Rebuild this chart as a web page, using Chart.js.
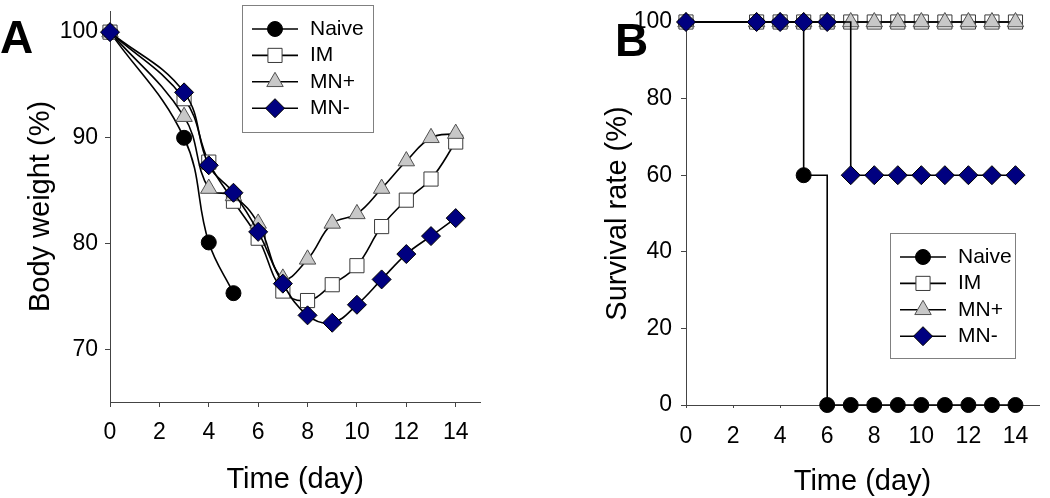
<!DOCTYPE html>
<html>
<head>
<meta charset="utf-8">
<script src="https://cdn.jsdelivr.net/npm/chart.js@4.4.1/dist/chart.umd.min.js"></script>
<style>
  body { margin: 0; background: #fff; }
  #wrap { position: relative; width: 1050px; height: 498px; overflow: hidden; }
  canvas { position: absolute; top: 0; }
  #chartA { left: 0; }
  #chartB { left: 525px; }
  .panel { position: absolute; font: bold 46px 'Liberation Sans', Arial, sans-serif; line-height: 1; color: #000; z-index: 2; }
</style>
</head>
<body>
<div id="wrap">
  <canvas id="chartA" width="525" height="498"></canvas>
  <canvas id="chartB" width="525" height="498"></canvas>
  <div class="panel" style="left:0px;top:14px">A</div>
  <div class="panel" style="left:615px;top:17px">B</div>
</div>
<script>
// data
var days = [0, 3, 4, 5, 6, 7, 8, 9, 10, 11, 12, 13, 14];
var dayTicks = [0, 2, 4, 6, 8, 10, 12, 14];
var weightTicks = [70, 80, 90, 100];
var survivalTicks = [0, 20, 40, 60, 80, 100];
var groups = ['Naive', 'IM', 'MN+', 'MN-'];

// body weight (%) - naive mice only to day 5
var weightNaive = [100, 90.0, 80.1, 75.3];
var weightIM = [100, 93.7, 87.7, 84.0, 80.5, 75.5, 74.6, 76.1, 77.9, 81.6, 84.1, 86.1, 89.6];
var weightMNplus = [100, 92.0, 85.2, 84.5, 81.9, 76.7, 78.5, 81.9, 82.8, 85.2, 87.8, 90.0, 90.4];
var weightMNminus = [100, 94.3, 87.4, 84.8, 81.1, 76.2, 73.2, 72.5, 74.2, 76.6, 79.0, 80.7, 82.4];

// survival rate (%)
var survNaive = [100, 100, 100, 60, 0, 0, 0, 0, 0, 0, 0, 0, 0];
var survIM = [100, 100, 100, 100, 100, 100, 100, 100, 100, 100, 100, 100, 100];
var survMNplus = [100, 100, 100, 100, 100, 100, 100, 100, 100, 100, 100, 100, 100];
var survMNminus = [100, 100, 100, 100, 100, 60, 60, 60, 60, 60, 60, 60, 60];

var FONT = "'Liberation Sans', Arial, sans-serif";

var markers = [
  { style: 'circle', radius: 7.5, fill: '#000000', border: '#000000' },
  { style: 'rect', radius: 10, fill: '#ffffff', border: '#3a3a3a' },
  { style: 'triangle', radius: 9.5, fill: '#c8c8c8', border: '#505050' },
  { style: 'rectRot', radius: 9.5, fill: '#000080', border: '#000000' }
];

function toPoints(values) {
  return values.map(function (v, i) { return { x: days[i], y: v }; });
}

function makeDatasets(seriesList, extra) {
  return seriesList.map(function (values, i) {
    var m = markers[i];
    return Object.assign({
      label: groups[i],
      data: toPoints(values),
      order: 3 - i, // MN- drawn on top
      borderColor: '#000',
      borderWidth: 1.6,
      pointStyle: m.style,
      pointRadius: m.radius,
      pointHoverRadius: m.radius,
      pointBackgroundColor: m.fill,
      pointBorderColor: m.border,
      pointBorderWidth: 1,
      clip: false
    }, extra);
  });
}

// legend drawn inside a framed box
var boxLegend = {
  id: 'boxLegend',
  afterDraw: function (chart, args, opts) {
    var ctx = chart.ctx;
    ctx.save();
    ctx.strokeStyle = '#808080';
    ctx.lineWidth = 1;
    ctx.strokeRect(opts.x + 0.5, opts.y + 0.5, opts.w, opts.h);
    ctx.font = '21px ' + FONT;
    ctx.textBaseline = 'middle';
    ctx.textAlign = 'left';
    chart.data.datasets.forEach(function (ds, i) {
      var cy = opts.y + 24 + i * 26.4;
      ctx.strokeStyle = '#000';
      ctx.lineWidth = 1.6;
      ctx.beginPath();
      ctx.moveTo(opts.x + 10, cy);
      ctx.lineTo(opts.x + 56, cy);
      ctx.stroke();
      ctx.fillStyle = ds.pointBackgroundColor;
      ctx.strokeStyle = ds.pointBorderColor;
      ctx.lineWidth = 1;
      Chart.helpers.drawPoint(ctx, { pointStyle: ds.pointStyle, radius: ds.pointRadius, borderWidth: 1, rotation: 0 }, opts.x + 33, cy);
      ctx.fillStyle = '#000';
      ctx.fillText(ds.label, opts.x + 68, cy);
    });
    ctx.restore();
  }
};

function xAxis(height, tickLen, pad, titlePad) {
  return {
    type: 'linear', min: 0, max: 15,
    afterBuildTicks: function (s) { s.ticks = dayTicks.map(function (v) { return { value: v }; }); },
    afterFit: function (s) { s.height = height; s.paddingLeft = 0; s.paddingRight = 0; },
    ticks: { color: '#000', font: { size: 23, family: FONT }, padding: pad, maxRotation: 0 },
    grid: { display: true, drawOnChartArea: false, drawTicks: true, tickLength: tickLen, tickColor: '#444' },
    border: { display: true, color: '#444', width: 1 },
    title: { display: true, text: 'Time (day)', color: '#000', font: { size: 29, family: FONT, lineHeight: 1 }, padding: { top: 0, bottom: titlePad } }
  };
}

function yAxis(width, min, max, tickList, label, pad, titlePad) {
  return {
    type: 'linear', min: min, max: max,
    afterBuildTicks: function (s) { s.ticks = tickList.map(function (v) { return { value: v }; }); },
    afterFit: function (s) { s.width = width; s.paddingTop = 0; s.paddingBottom = 0; },
    ticks: { color: '#000', font: { size: 23, family: FONT }, padding: pad },
    grid: { display: true, drawOnChartArea: false, drawTicks: true, tickLength: 5, tickColor: '#444' },
    border: { display: true, color: '#444', width: 1 },
    title: { display: true, text: label, color: '#000', font: { size: 29, family: FONT, lineHeight: 1 }, padding: { top: titlePad, bottom: 0 } }
  };
}

function baseOptions(layoutPad, legendBox, scales) {
  return {
    responsive: false,
    animation: false,
    events: [],
    layout: { padding: layoutPad },
    plugins: { legend: { display: false }, tooltip: { enabled: false }, boxLegend: legendBox },
    scales: scales
  };
}

// Panel A: body weight
new Chart(document.getElementById('chartA'), {
  type: 'line',
  data: { datasets: makeDatasets([weightNaive, weightIM, weightMNplus, weightMNminus], { tension: 0.4 }) },
  options: baseOptions(
    { top: 0, right: 44.6, bottom: 0, left: 0 },
    { x: 242, y: 5, w: 131, h: 127 },
    { x: xAxis(96, 5, 12, 4), y: yAxis(110, 65, 102, weightTicks, 'Body weight (%)', 7, 26) }
  ),
  plugins: [boxLegend]
});

// Panel B: survival
new Chart(document.getElementById('chartB'), {
  type: 'line',
  data: { datasets: makeDatasets([survNaive, survIM, survMNplus, survMNminus], { stepped: true, tension: 0 }) },
  options: baseOptions(
    { top: 22, right: 3, bottom: 0, left: 0 },
    { x: 365, y: 233, w: 125, h: 125 },
    { x: xAxis(93, 3, 15, 2), y: yAxis(161, 0, 100, survivalTicks, 'Survival rate (%)', 9, 78) }
  ),
  plugins: [boxLegend]
});
</script>
</body>
</html>
